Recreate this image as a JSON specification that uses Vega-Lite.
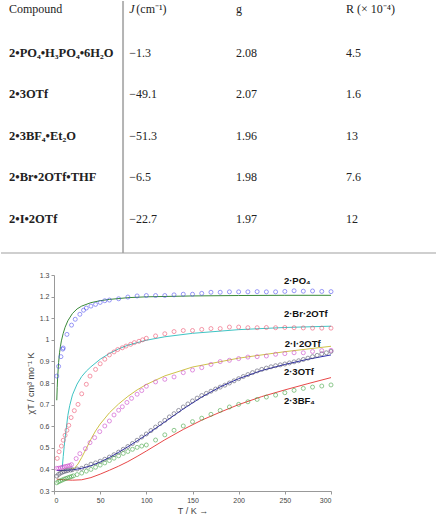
{
  "$schema": "https://vega.github.io/schema/vega-lite/v6.json",
  "padding": 0,
  "spacing": 17,
  "config": {"view": {"stroke": null}, "font": "Liberation Sans"},
  "datasets": {
    "table": [
      {"compound": "2•PO₄•H₃PO₄•6H₂O", "J": "−1.3", "g": "2.08", "R": "4.5"},
      {"compound": "2•3OTf", "J": "−49.1", "g": "2.07", "R": "1.6"},
      {"compound": "2•3BF₄•Et₂O", "J": "−51.3", "g": "1.96", "R": "13"},
      {"compound": "2•Br•2OTf•THF", "J": "−6.5", "g": "1.98", "R": "7.6"},
      {"compound": "2•I•2OTf", "J": "−22.7", "g": "1.97", "R": "12"}
    ],
    "points": [
      {"c": "PO4", "T": 3, "chi": 0.832}, {"c": "PO4", "T": 5, "chi": 0.877}, {"c": "PO4", "T": 7.5, "chi": 0.922}, {"c": "PO4", "T": 9.5, "chi": 0.957}, {"c": "PO4", "T": 10, "chi": 0.962}, {"c": "PO4", "T": 14, "chi": 1.025}, {"c": "PO4", "T": 19, "chi": 1.068}, {"c": "PO4", "T": 23, "chi": 1.095}, {"c": "PO4", "T": 28, "chi": 1.118}, {"c": "PO4", "T": 32, "chi": 1.137}, {"c": "PO4", "T": 35, "chi": 1.147}, {"c": "PO4", "T": 40, "chi": 1.156}, {"c": "PO4", "T": 45, "chi": 1.164}, {"c": "PO4", "T": 50, "chi": 1.173}, {"c": "PO4", "T": 55, "chi": 1.181}, {"c": "PO4", "T": 60, "chi": 1.184}, {"c": "PO4", "T": 70, "chi": 1.19}, {"c": "PO4", "T": 80, "chi": 1.198}, {"c": "PO4", "T": 90, "chi": 1.203}, {"c": "PO4", "T": 100, "chi": 1.205}, {"c": "PO4", "T": 110, "chi": 1.205}, {"c": "PO4", "T": 120, "chi": 1.205}, {"c": "PO4", "T": 130, "chi": 1.208}, {"c": "PO4", "T": 140, "chi": 1.211}, {"c": "PO4", "T": 150, "chi": 1.211}, {"c": "PO4", "T": 160, "chi": 1.215}, {"c": "PO4", "T": 170, "chi": 1.22}, {"c": "PO4", "T": 180, "chi": 1.22}, {"c": "PO4", "T": 190, "chi": 1.222}, {"c": "PO4", "T": 200, "chi": 1.222}, {"c": "PO4", "T": 210, "chi": 1.222}, {"c": "PO4", "T": 220, "chi": 1.223}, {"c": "PO4", "T": 230, "chi": 1.222}, {"c": "PO4", "T": 240, "chi": 1.222}, {"c": "PO4", "T": 250, "chi": 1.224}, {"c": "PO4", "T": 260, "chi": 1.227}, {"c": "PO4", "T": 270, "chi": 1.225}, {"c": "PO4", "T": 280, "chi": 1.226}, {"c": "PO4", "T": 290, "chi": 1.224}, {"c": "PO4", "T": 300, "chi": 1.223},

      {"c": "Br", "T": 3.5, "chi": 0.451}, {"c": "Br", "T": 5.5, "chi": 0.482}, {"c": "Br", "T": 8, "chi": 0.508}, {"c": "Br", "T": 10, "chi": 0.535}, {"c": "Br", "T": 12, "chi": 0.558}, {"c": "Br", "T": 14, "chi": 0.581}, {"c": "Br", "T": 16, "chi": 0.604}, {"c": "Br", "T": 18.5, "chi": 0.64}, {"c": "Br", "T": 22, "chi": 0.672}, {"c": "Br", "T": 26, "chi": 0.701}, {"c": "Br", "T": 30, "chi": 0.75}, {"c": "Br", "T": 35, "chi": 0.794}, {"c": "Br", "T": 39, "chi": 0.832}, {"c": "Br", "T": 45, "chi": 0.863}, {"c": "Br", "T": 50, "chi": 0.889}, {"c": "Br", "T": 55, "chi": 0.91}, {"c": "Br", "T": 60, "chi": 0.93}, {"c": "Br", "T": 65, "chi": 0.944}, {"c": "Br", "T": 69, "chi": 0.955}, {"c": "Br", "T": 74, "chi": 0.963}, {"c": "Br", "T": 78, "chi": 0.971}, {"c": "Br", "T": 83, "chi": 0.979}, {"c": "Br", "T": 87, "chi": 0.987}, {"c": "Br", "T": 92, "chi": 0.993}, {"c": "Br", "T": 96, "chi": 1.0}, {"c": "Br", "T": 100, "chi": 1.007}, {"c": "Br", "T": 110, "chi": 1.018}, {"c": "Br", "T": 120, "chi": 1.028}, {"c": "Br", "T": 130, "chi": 1.038}, {"c": "Br", "T": 140, "chi": 1.043}, {"c": "Br", "T": 150, "chi": 1.043}, {"c": "Br", "T": 160, "chi": 1.048}, {"c": "Br", "T": 170, "chi": 1.052}, {"c": "Br", "T": 180, "chi": 1.052}, {"c": "Br", "T": 190, "chi": 1.059}, {"c": "Br", "T": 200, "chi": 1.059}, {"c": "Br", "T": 210, "chi": 1.056}, {"c": "Br", "T": 220, "chi": 1.056}, {"c": "Br", "T": 230, "chi": 1.057}, {"c": "Br", "T": 240, "chi": 1.056}, {"c": "Br", "T": 250, "chi": 1.057}, {"c": "Br", "T": 260, "chi": 1.056}, {"c": "Br", "T": 270, "chi": 1.055}, {"c": "Br", "T": 280, "chi": 1.054}, {"c": "Br", "T": 290, "chi": 1.054}, {"c": "Br", "T": 300, "chi": 1.054},

      {"c": "I", "T": 3, "chi": 0.405}, {"c": "I", "T": 5, "chi": 0.405}, {"c": "I", "T": 7, "chi": 0.407}, {"c": "I", "T": 9, "chi": 0.41}, {"c": "I", "T": 11, "chi": 0.412}, {"c": "I", "T": 13, "chi": 0.414}, {"c": "I", "T": 15, "chi": 0.416}, {"c": "I", "T": 17, "chi": 0.418}, {"c": "I", "T": 19, "chi": 0.422}, {"c": "I", "T": 24, "chi": 0.45}, {"c": "I", "T": 28, "chi": 0.473}, {"c": "I", "T": 34, "chi": 0.496}, {"c": "I", "T": 39, "chi": 0.524}, {"c": "I", "T": 44, "chi": 0.547}, {"c": "I", "T": 49.5, "chi": 0.575}, {"c": "I", "T": 55, "chi": 0.601}, {"c": "I", "T": 60, "chi": 0.624}, {"c": "I", "T": 65, "chi": 0.652}, {"c": "I", "T": 70, "chi": 0.674}, {"c": "I", "T": 74, "chi": 0.69}, {"c": "I", "T": 79, "chi": 0.71}, {"c": "I", "T": 84, "chi": 0.729}, {"c": "I", "T": 90, "chi": 0.748}, {"c": "I", "T": 95, "chi": 0.765}, {"c": "I", "T": 100, "chi": 0.785}, {"c": "I", "T": 110, "chi": 0.805}, {"c": "I", "T": 120, "chi": 0.817}, {"c": "I", "T": 130, "chi": 0.828}, {"c": "I", "T": 140, "chi": 0.848}, {"c": "I", "T": 150, "chi": 0.86}, {"c": "I", "T": 160, "chi": 0.871}, {"c": "I", "T": 170, "chi": 0.886}, {"c": "I", "T": 180, "chi": 0.899}, {"c": "I", "T": 190, "chi": 0.905}, {"c": "I", "T": 200, "chi": 0.913}, {"c": "I", "T": 210, "chi": 0.92}, {"c": "I", "T": 220, "chi": 0.922}, {"c": "I", "T": 230, "chi": 0.925}, {"c": "I", "T": 240, "chi": 0.933}, {"c": "I", "T": 250, "chi": 0.936}, {"c": "I", "T": 260, "chi": 0.94}, {"c": "I", "T": 270, "chi": 0.94}, {"c": "I", "T": 280, "chi": 0.946}, {"c": "I", "T": 290, "chi": 0.95}, {"c": "I", "T": 300, "chi": 0.951},

      {"c": "OTf", "T": 3, "chi": 0.369}, {"c": "OTf", "T": 5, "chi": 0.377}, {"c": "OTf", "T": 7, "chi": 0.383}, {"c": "OTf", "T": 9, "chi": 0.387}, {"c": "OTf", "T": 11, "chi": 0.39}, {"c": "OTf", "T": 13, "chi": 0.393}, {"c": "OTf", "T": 15, "chi": 0.395}, {"c": "OTf", "T": 18, "chi": 0.397}, {"c": "OTf", "T": 20, "chi": 0.399}, {"c": "OTf", "T": 25, "chi": 0.402}, {"c": "OTf", "T": 30, "chi": 0.405}, {"c": "OTf", "T": 35, "chi": 0.415}, {"c": "OTf", "T": 40, "chi": 0.424}, {"c": "OTf", "T": 45, "chi": 0.43}, {"c": "OTf", "T": 50, "chi": 0.438}, {"c": "OTf", "T": 55, "chi": 0.447}, {"c": "OTf", "T": 60, "chi": 0.457}, {"c": "OTf", "T": 65, "chi": 0.468}, {"c": "OTf", "T": 70, "chi": 0.48}, {"c": "OTf", "T": 75, "chi": 0.493}, {"c": "OTf", "T": 80, "chi": 0.506}, {"c": "OTf", "T": 85, "chi": 0.52}, {"c": "OTf", "T": 90, "chi": 0.535}, {"c": "OTf", "T": 95, "chi": 0.55}, {"c": "OTf", "T": 100, "chi": 0.564}, {"c": "OTf", "T": 105, "chi": 0.58}, {"c": "OTf", "T": 110, "chi": 0.596}, {"c": "OTf", "T": 115, "chi": 0.612}, {"c": "OTf", "T": 120, "chi": 0.627}, {"c": "OTf", "T": 125, "chi": 0.643}, {"c": "OTf", "T": 130, "chi": 0.658}, {"c": "OTf", "T": 135, "chi": 0.673}, {"c": "OTf", "T": 140, "chi": 0.689}, {"c": "OTf", "T": 145, "chi": 0.703}, {"c": "OTf", "T": 150, "chi": 0.717}, {"c": "OTf", "T": 155, "chi": 0.73}, {"c": "OTf", "T": 160, "chi": 0.742}, {"c": "OTf", "T": 165, "chi": 0.752}, {"c": "OTf", "T": 170, "chi": 0.762}, {"c": "OTf", "T": 175, "chi": 0.772}, {"c": "OTf", "T": 180, "chi": 0.781}, {"c": "OTf", "T": 185, "chi": 0.79}, {"c": "OTf", "T": 190, "chi": 0.8}, {"c": "OTf", "T": 195, "chi": 0.81}, {"c": "OTf", "T": 200, "chi": 0.82}, {"c": "OTf", "T": 205, "chi": 0.83}, {"c": "OTf", "T": 210, "chi": 0.839}, {"c": "OTf", "T": 215, "chi": 0.848}, {"c": "OTf", "T": 220, "chi": 0.856}, {"c": "OTf", "T": 225, "chi": 0.863}, {"c": "OTf", "T": 230, "chi": 0.869}, {"c": "OTf", "T": 235, "chi": 0.875}, {"c": "OTf", "T": 240, "chi": 0.88}, {"c": "OTf", "T": 245, "chi": 0.884}, {"c": "OTf", "T": 250, "chi": 0.888}, {"c": "OTf", "T": 255, "chi": 0.893}, {"c": "OTf", "T": 260, "chi": 0.898}, {"c": "OTf", "T": 265, "chi": 0.903}, {"c": "OTf", "T": 270, "chi": 0.909}, {"c": "OTf", "T": 275, "chi": 0.915}, {"c": "OTf", "T": 280, "chi": 0.922}, {"c": "OTf", "T": 285, "chi": 0.928}, {"c": "OTf", "T": 290, "chi": 0.935}, {"c": "OTf", "T": 295, "chi": 0.94}, {"c": "OTf", "T": 300, "chi": 0.946},

      {"c": "BF4", "T": 3, "chi": 0.338}, {"c": "BF4", "T": 5, "chi": 0.343}, {"c": "BF4", "T": 7, "chi": 0.347}, {"c": "BF4", "T": 9, "chi": 0.351}, {"c": "BF4", "T": 11, "chi": 0.355}, {"c": "BF4", "T": 13, "chi": 0.358}, {"c": "BF4", "T": 15, "chi": 0.361}, {"c": "BF4", "T": 17, "chi": 0.364}, {"c": "BF4", "T": 19, "chi": 0.367}, {"c": "BF4", "T": 21, "chi": 0.37}, {"c": "BF4", "T": 25, "chi": 0.376}, {"c": "BF4", "T": 30, "chi": 0.383}, {"c": "BF4", "T": 35, "chi": 0.392}, {"c": "BF4", "T": 40, "chi": 0.4}, {"c": "BF4", "T": 45, "chi": 0.41}, {"c": "BF4", "T": 50, "chi": 0.42}, {"c": "BF4", "T": 55, "chi": 0.43}, {"c": "BF4", "T": 60, "chi": 0.441}, {"c": "BF4", "T": 65, "chi": 0.452}, {"c": "BF4", "T": 70, "chi": 0.463}, {"c": "BF4", "T": 75, "chi": 0.474}, {"c": "BF4", "T": 80, "chi": 0.483}, {"c": "BF4", "T": 85, "chi": 0.493}, {"c": "BF4", "T": 90, "chi": 0.502}, {"c": "BF4", "T": 95, "chi": 0.508}, {"c": "BF4", "T": 100, "chi": 0.513}, {"c": "BF4", "T": 110, "chi": 0.536}, {"c": "BF4", "T": 120, "chi": 0.56}, {"c": "BF4", "T": 130, "chi": 0.581}, {"c": "BF4", "T": 140, "chi": 0.601}, {"c": "BF4", "T": 150, "chi": 0.621}, {"c": "BF4", "T": 160, "chi": 0.637}, {"c": "BF4", "T": 170, "chi": 0.655}, {"c": "BF4", "T": 180, "chi": 0.673}, {"c": "BF4", "T": 190, "chi": 0.689}, {"c": "BF4", "T": 200, "chi": 0.701}, {"c": "BF4", "T": 210, "chi": 0.713}, {"c": "BF4", "T": 220, "chi": 0.724}, {"c": "BF4", "T": 230, "chi": 0.735}, {"c": "BF4", "T": 240, "chi": 0.744}, {"c": "BF4", "T": 250, "chi": 0.755}, {"c": "BF4", "T": 260, "chi": 0.766}, {"c": "BF4", "T": 270, "chi": 0.775}, {"c": "BF4", "T": 280, "chi": 0.781}, {"c": "BF4", "T": 290, "chi": 0.786}, {"c": "BF4", "T": 300, "chi": 0.791}
    ],
    "fits": [
      {"c": "PO4", "T": 3, "chi": 0.72}, {"c": "PO4", "T": 3.5, "chi": 0.78}, {"c": "PO4", "T": 4, "chi": 0.83}, {"c": "PO4", "T": 5, "chi": 0.895}, {"c": "PO4", "T": 6, "chi": 0.94}, {"c": "PO4", "T": 7, "chi": 0.97}, {"c": "PO4", "T": 8, "chi": 0.995}, {"c": "PO4", "T": 10, "chi": 1.03}, {"c": "PO4", "T": 12, "chi": 1.058}, {"c": "PO4", "T": 15, "chi": 1.088}, {"c": "PO4", "T": 20, "chi": 1.122}, {"c": "PO4", "T": 25, "chi": 1.143}, {"c": "PO4", "T": 30, "chi": 1.156}, {"c": "PO4", "T": 40, "chi": 1.172}, {"c": "PO4", "T": 50, "chi": 1.181}, {"c": "PO4", "T": 60, "chi": 1.187}, {"c": "PO4", "T": 80, "chi": 1.195}, {"c": "PO4", "T": 100, "chi": 1.199}, {"c": "PO4", "T": 150, "chi": 1.203}, {"c": "PO4", "T": 200, "chi": 1.205}, {"c": "PO4", "T": 250, "chi": 1.206}, {"c": "PO4", "T": 300, "chi": 1.206},
      {"c": "Br", "T": 9, "chi": 0.41}, {"c": "Br", "T": 10, "chi": 0.46}, {"c": "Br", "T": 11, "chi": 0.505}, {"c": "Br", "T": 12, "chi": 0.545}, {"c": "Br", "T": 13, "chi": 0.58}, {"c": "Br", "T": 15, "chi": 0.65}, {"c": "Br", "T": 17, "chi": 0.695}, {"c": "Br", "T": 20, "chi": 0.745}, {"c": "Br", "T": 25, "chi": 0.795}, {"c": "Br", "T": 30, "chi": 0.83}, {"c": "Br", "T": 35, "chi": 0.855}, {"c": "Br", "T": 40, "chi": 0.875}, {"c": "Br", "T": 50, "chi": 0.91}, {"c": "Br", "T": 60, "chi": 0.937}, {"c": "Br", "T": 70, "chi": 0.958}, {"c": "Br", "T": 80, "chi": 0.975}, {"c": "Br", "T": 100, "chi": 0.998}, {"c": "Br", "T": 120, "chi": 1.014}, {"c": "Br", "T": 150, "chi": 1.03}, {"c": "Br", "T": 200, "chi": 1.047}, {"c": "Br", "T": 250, "chi": 1.057}, {"c": "Br", "T": 300, "chi": 1.063},
      {"c": "I", "T": 18, "chi": 0.4}, {"c": "I", "T": 22, "chi": 0.405}, {"c": "I", "T": 26, "chi": 0.425}, {"c": "I", "T": 30, "chi": 0.455}, {"c": "I", "T": 35, "chi": 0.497}, {"c": "I", "T": 40, "chi": 0.54}, {"c": "I", "T": 45, "chi": 0.578}, {"c": "I", "T": 50, "chi": 0.61}, {"c": "I", "T": 60, "chi": 0.662}, {"c": "I", "T": 70, "chi": 0.703}, {"c": "I", "T": 80, "chi": 0.738}, {"c": "I", "T": 90, "chi": 0.768}, {"c": "I", "T": 100, "chi": 0.793}, {"c": "I", "T": 120, "chi": 0.833}, {"c": "I", "T": 150, "chi": 0.874}, {"c": "I", "T": 200, "chi": 0.915}, {"c": "I", "T": 250, "chi": 0.945}, {"c": "I", "T": 300, "chi": 0.97},
      {"c": "OTf", "T": 3, "chi": 0.395}, {"c": "OTf", "T": 10, "chi": 0.395}, {"c": "OTf", "T": 20, "chi": 0.398}, {"c": "OTf", "T": 30, "chi": 0.405}, {"c": "OTf", "T": 40, "chi": 0.417}, {"c": "OTf", "T": 50, "chi": 0.434}, {"c": "OTf", "T": 60, "chi": 0.455}, {"c": "OTf", "T": 70, "chi": 0.479}, {"c": "OTf", "T": 80, "chi": 0.505}, {"c": "OTf", "T": 90, "chi": 0.532}, {"c": "OTf", "T": 100, "chi": 0.56}, {"c": "OTf", "T": 120, "chi": 0.62}, {"c": "OTf", "T": 140, "chi": 0.68}, {"c": "OTf", "T": 160, "chi": 0.735}, {"c": "OTf", "T": 180, "chi": 0.782}, {"c": "OTf", "T": 200, "chi": 0.82}, {"c": "OTf", "T": 225, "chi": 0.858}, {"c": "OTf", "T": 250, "chi": 0.886}, {"c": "OTf", "T": 275, "chi": 0.91}, {"c": "OTf", "T": 300, "chi": 0.93},
      {"c": "BF4", "T": 3, "chi": 0.355}, {"c": "BF4", "T": 10, "chi": 0.352}, {"c": "BF4", "T": 20, "chi": 0.35}, {"c": "BF4", "T": 30, "chi": 0.352}, {"c": "BF4", "T": 40, "chi": 0.362}, {"c": "BF4", "T": 50, "chi": 0.378}, {"c": "BF4", "T": 60, "chi": 0.396}, {"c": "BF4", "T": 70, "chi": 0.415}, {"c": "BF4", "T": 80, "chi": 0.436}, {"c": "BF4", "T": 90, "chi": 0.46}, {"c": "BF4", "T": 100, "chi": 0.485}, {"c": "BF4", "T": 120, "chi": 0.537}, {"c": "BF4", "T": 140, "chi": 0.585}, {"c": "BF4", "T": 160, "chi": 0.628}, {"c": "BF4", "T": 180, "chi": 0.665}, {"c": "BF4", "T": 200, "chi": 0.7}, {"c": "BF4", "T": 225, "chi": 0.737}, {"c": "BF4", "T": 250, "chi": 0.768}, {"c": "BF4", "T": 275, "chi": 0.797}, {"c": "BF4", "T": 300, "chi": 0.825}
    ],
    "labels": [
      {"label": "2·PO₄", "T": 249, "chi": 1.272},
      {"label": "2·Br·2OTf", "T": 249, "chi": 1.118},
      {"label": "2·I·2OTf", "T": 250, "chi": 0.982},
      {"label": "2·3OTf", "T": 249, "chi": 0.851},
      {"label": "2·3BF₄", "T": 249, "chi": 0.717}
    ]
  },
  "vconcat": [
    {
      "width": 436,
      "height": 252,
      "layer": [
        {
          "data": {"values": [{}]},
          "mark": {"type": "rule", "color": "#b4b4b4", "strokeWidth": 2, "xOffset": 1.7},
          "encoding": {"x": {"datum": "J", "type": "nominal", "scale": {"type": "point", "padding": 0, "domain": ["Compound", "J", "g", "R"], "range": [8, 345]}, "axis": null}}
        },
        {
          "data": {"values": [{}]},
          "mark": {"type": "rule", "color": "#a0a0a0", "strokeWidth": 1.2, "yOffset": 34},
          "encoding": {"y": {"datum": "2•I•2OTf", "type": "nominal", "scale": {"type": "point", "padding": 0, "domain": ["header", "2•PO₄•H₃PO₄•6H₂O", "2•3OTf", "2•3BF₄•Et₂O", "2•Br•2OTf•THF", "2•I•2OTf"], "range": [10, 218]}, "axis": null}}
        },
        {
          "data": {"name": "table"},
          "mark": {"type": "text", "align": "left", "baseline": "middle", "font": "Liberation Serif", "fontSize": 12.5, "fontWeight": "bold", "color": "#222"},
          "encoding": {"x": {"datum": "Compound", "type": "nominal"}, "y": {"field": "compound", "type": "nominal"}, "text": {"field": "compound"}}
        },
        {
          "data": {"name": "table"},
          "mark": {"type": "text", "align": "left", "baseline": "middle", "font": "Liberation Serif", "fontSize": 12, "color": "#222", "dx": 8},
          "encoding": {"x": {"datum": "J", "type": "nominal"}, "y": {"field": "compound", "type": "nominal"}, "text": {"field": "J"}}
        },
        {
          "data": {"name": "table"},
          "mark": {"type": "text", "align": "left", "baseline": "middle", "font": "Liberation Serif", "fontSize": 12, "color": "#222", "dx": 2.3},
          "encoding": {"x": {"datum": "g", "type": "nominal"}, "y": {"field": "compound", "type": "nominal"}, "text": {"field": "g"}}
        },
        {
          "data": {"name": "table"},
          "mark": {"type": "text", "align": "left", "baseline": "middle", "font": "Liberation Serif", "fontSize": 12, "color": "#222"},
          "encoding": {"x": {"datum": "R", "type": "nominal"}, "y": {"field": "compound", "type": "nominal"}, "text": {"field": "R"}}
        },
        {
          "data": {"values": [{"row": "header", "col": "Compound", "label": "Compound"}, {"row": "header", "col": "R", "label": "R (× 10⁻⁴)"}]},
          "mark": {"type": "text", "align": "left", "baseline": "middle", "font": "Liberation Serif", "fontSize": 12, "color": "#222", "dy": -2},
          "encoding": {"x": {"field": "col", "type": "nominal"}, "y": {"field": "row", "type": "nominal"}, "text": {"field": "label"}}
        },
        {
          "data": {"values": [{"row": "header", "col": "g", "label": "g"}]},
          "mark": {"type": "text", "align": "left", "baseline": "middle", "font": "Liberation Serif", "fontSize": 12, "color": "#222", "dy": -2, "dx": 2.3},
          "encoding": {"x": {"field": "col", "type": "nominal"}, "y": {"field": "row", "type": "nominal"}, "text": {"field": "label"}}
        },
        {
          "data": {"values": [{"row": "header", "col": "J", "label": "J"}]},
          "mark": {"type": "text", "align": "left", "baseline": "middle", "font": "Liberation Serif", "fontSize": 12, "fontStyle": "italic", "color": "#222", "dy": -2, "dx": 8},
          "encoding": {"x": {"field": "col", "type": "nominal"}, "y": {"field": "row", "type": "nominal"}, "text": {"field": "label"}}
        },
        {
          "data": {"values": [{"row": "header", "col": "J", "label": "(cm⁻¹)"}]},
          "mark": {"type": "text", "align": "left", "baseline": "middle", "font": "Liberation Serif", "fontSize": 12, "color": "#222", "dy": -2, "dx": 15},
          "encoding": {"x": {"field": "col", "type": "nominal"}, "y": {"field": "row", "type": "nominal"}, "text": {"field": "label"}}
        }
      ]
    },
    {
      "spacing": 0,
      "hconcat": [
        {
          "width": 25,
          "height": 216,
          "data": {"values": [{}]},
          "mark": {"type": "text"},
          "encoding": {}
        },
        {
          "width": 277,
          "height": 216,
          "encoding": {
            "x": {"field": "T", "type": "quantitative", "scale": {"domain": [0, 300]},
              "axis": {"values": [0, 50, 100, 150, 200, 250, 300], "title": "T / K →", "grid": false, "labelFontSize": 7, "titleFontSize": 9, "titleFontWeight": "normal", "domainColor": "#999", "tickColor": "#999", "labelColor": "#444", "titleColor": "#444", "tickSize": 3, "labelPadding": 2, "titlePadding": 3}},
            "y": {"field": "chi", "type": "quantitative", "scale": {"domain": [0.3, 1.3], "nice": false},
              "axis": {"values": [0.3, 0.4, 0.5, 0.6, 0.7, 0.8, 0.9, 1, 1.1, 1.2, 1.3], "format": ".1~f", "labelOverlap": false, "labelBound": false, "title": "χT / cm³ mo⁻¹ K", "grid": false, "labelFontSize": 7, "titleFontSize": 9, "titleFontWeight": "normal", "domainColor": "#999", "tickColor": "#999", "labelColor": "#444", "titleColor": "#444", "tickSize": 3, "labelPadding": 2, "titlePadding": 4}}
          },
          "layer": [
            {
              "data": {"name": "fits"},
              "mark": {"type": "line", "strokeWidth": 1},
              "encoding": {
                "color": {"field": "c", "type": "nominal", "scale": {"domain": ["PO4", "Br", "I", "OTf", "BF4"], "range": ["#3a8a3a", "#40c4c4", "#cfc24a", "#3030b0", "#e84848"]}, "legend": null},
                "order": {"field": "T", "type": "quantitative"}
              }
            },
            {
              "data": {"name": "points"},
              "mark": {"type": "point", "shape": "circle", "filled": false, "size": 16, "strokeWidth": 0.8},
              "encoding": {
                "color": {"field": "c", "type": "nominal", "scale": {"domain": ["PO4", "Br", "I", "OTf", "BF4"], "range": ["#4848f0", "#ee4866", "#c838c8", "#484860", "#38a038"]}, "legend": null}
              }
            },
            {
              "data": {"name": "labels"},
              "mark": {"type": "text", "align": "left", "baseline": "middle", "fontSize": 9.5, "fontWeight": "bold", "color": "#111"},
              "encoding": {
                "text": {"field": "label"}
              }
            }
          ],
          "resolve": {"scale": {"color": "independent"}}
        }
      ]
    }
  ]
}
